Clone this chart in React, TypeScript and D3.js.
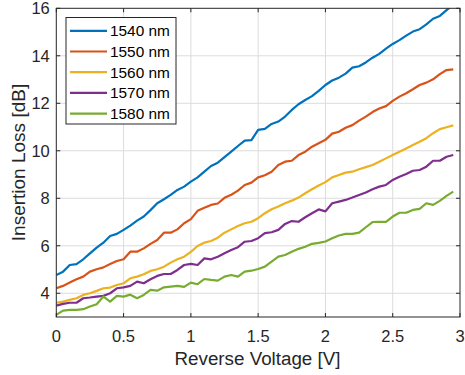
import React from "react";
import * as d3 from "d3";

const voltages: number[] = d3.range(60).map((i) => +(i * 0.05).toFixed(2));

const seriesNames = ["1540 nm", "1550 nm", "1560 nm", "1570 nm", "1580 nm"];
const seriesColors = ["#0072BD", "#D95319", "#EDB120", "#7E2F8E", "#77AC30"];

const loss1540 = [4.77, 4.91, 5.19, 5.23, 5.43, 5.68, 5.92, 6.13, 6.41, 6.5, 6.67, 6.85, 7.06, 7.23, 7.5, 7.79, 7.96, 8.14, 8.35, 8.49,
  8.7, 8.88, 9.12, 9.36, 9.5, 9.73, 9.96, 10.2, 10.43, 10.45, 10.88, 10.92, 11.13, 11.23, 11.44, 11.72, 11.96, 12.14, 12.3, 12.52,
  12.77, 12.96, 13.08, 13.25, 13.5, 13.56, 13.72, 13.92, 14.08, 14.3, 14.5, 14.66, 14.85, 15.02, 15.12, 15.32, 15.56, 15.68, 15.92, 16.15];
const loss1550 = [4.21, 4.31, 4.45, 4.59, 4.7, 4.91, 5.01, 5.09, 5.23, 5.36, 5.43, 5.75, 5.75, 5.89, 6.08, 6.24, 6.55, 6.55, 6.69, 6.95,
  7.12, 7.47, 7.6, 7.72, 7.78, 8.02, 8.15, 8.32, 8.56, 8.66, 8.88, 8.97, 9.12, 9.4, 9.54, 9.58, 9.82, 9.96, 10.17, 10.32,
  10.46, 10.72, 10.8, 10.97, 11.08, 11.27, 11.44, 11.63, 11.78, 11.88, 12.1, 12.28, 12.42, 12.59, 12.77, 12.87, 13.01, 13.23, 13.4, 13.43];
const loss1560 = [3.6, 3.65, 3.72, 3.79, 3.93, 4.0, 4.1, 4.21, 4.24, 4.35, 4.42, 4.63, 4.7, 4.8, 4.94, 5.01, 5.12, 5.29, 5.43, 5.54,
  5.74, 5.99, 6.13, 6.2, 6.34, 6.55, 6.69, 6.83, 6.95, 7.01, 7.16, 7.37, 7.54, 7.65, 7.79, 7.9, 8.03, 8.21, 8.38, 8.54,
  8.68, 8.88, 8.98, 9.08, 9.12, 9.22, 9.31, 9.4, 9.54, 9.68, 9.82, 9.96, 10.1, 10.24, 10.38, 10.53, 10.74, 10.91, 10.99, 11.07];
const loss1570 = [3.48, 3.55, 3.6, 3.6, 3.79, 3.82, 3.86, 3.89, 4.0, 4.21, 4.25, 4.31, 4.49, 4.42, 4.59, 4.73, 4.81, 4.81, 4.98, 5.19,
  5.24, 5.19, 5.47, 5.43, 5.54, 5.68, 5.82, 5.94, 6.17, 6.2, 6.32, 6.53, 6.57, 6.67, 6.92, 7.04, 7.01, 7.2, 7.37, 7.53,
  7.45, 7.79, 7.86, 7.93, 8.03, 8.14, 8.24, 8.38, 8.49, 8.56, 8.77, 8.91, 9.02, 9.16, 9.19, 9.33, 9.58, 9.58, 9.75, 9.82];
const loss1580 = [3.09, 3.27, 3.3, 3.3, 3.33, 3.44, 3.54, 3.86, 3.65, 3.89, 3.86, 3.94, 3.79, 3.93, 4.14, 4.11, 4.25, 4.28, 4.31, 4.27,
  4.45, 4.38, 4.6, 4.56, 4.53, 4.7, 4.77, 4.7, 4.91, 4.95, 5.02, 5.12, 5.33, 5.54, 5.61, 5.75, 5.87, 5.96, 6.08, 6.12,
  6.18, 6.32, 6.43, 6.5, 6.5, 6.55, 6.78, 7.0, 7.01, 7.01, 7.23, 7.39, 7.39, 7.51, 7.55, 7.79, 7.72, 7.89, 8.1, 8.28];

const seriesValues = [loss1540, loss1550, loss1560, loss1570, loss1580];

const xTicks = [0, 0.5, 1, 1.5, 2, 2.5, 3];
const xTickLabels = ["0", "0.5", "1", "1.5", "2", "2.5", "3"];
const yTicks = [4, 6, 8, 10, 12, 14, 16];
const yTickLabels = ["4", "6", "8", "10", "12", "14", "16"];

const xLabel = "Reverse Voltage [V]";
const yLabel = "Insertion Loss [dB]";

const W = 465;
const H = 375;
const L = 56.3, R = 460, T = 8.3, B = 317;
const FONT = "'Liberation Sans', Arial, Helvetica, sans-serif";
const AX = "#262626";

export default function App() {
  const x = d3.scaleLinear().domain([0, 3]).range([L, R]);
  const y = d3.scaleLinear().domain([3, 16]).range([B, T]);
  const line = d3
    .line<[number, number]>()
    .x((d) => x(d[0]))
    .y((d) => y(d[1]));
  const tk = 4;
  return (
    <svg
      width={W}
      height={H}
      style={{ position: "absolute", left: 0, top: 0, background: "#fff" }}
      fontFamily={FONT}
    >
      <defs>
        <clipPath id="plotclip">
          <rect x={L} y={T} width={R - L} height={B - T} />
        </clipPath>
      </defs>
      <rect x={L} y={T} width={R - L} height={B - T} fill="#fff" />
      {/* grid */}
      <g stroke="#dcdcdc" strokeWidth={1}>
        {xTicks.slice(1, -1).map((t) => (
          <line key={"gx" + t} x1={x(t)} x2={x(t)} y1={T} y2={B} />
        ))}
        {yTicks.slice(0, -1).map((t) => (
          <line key={"gy" + t} x1={L} x2={R} y1={y(t)} y2={y(t)} />
        ))}
      </g>
      {/* series */}
      <g clipPath="url(#plotclip)" fill="none" strokeWidth={2.2} strokeLinejoin="round">
        {seriesValues.map((vals, i) => (
          <path
            key={seriesNames[i]}
            d={line(vals.map((v, j) => [voltages[j], v] as [number, number])) || ""}
            stroke={seriesColors[i]}
          />
        ))}
      </g>
      {/* axes box */}
      <rect x={L} y={T} width={R - L} height={B - T} fill="none" stroke={AX} strokeWidth={1} />
      <g stroke={AX} strokeWidth={1}>
        {xTicks.map((t) => (
          <g key={"tx" + t}>
            <line x1={x(t)} x2={x(t)} y1={B} y2={B - tk} />
            <line x1={x(t)} x2={x(t)} y1={T} y2={T + tk} />
          </g>
        ))}
        {yTicks.map((t) => (
          <g key={"ty" + t}>
            <line x1={L} x2={L + tk} y1={y(t)} y2={y(t)} />
            <line x1={R} x2={R - tk} y1={y(t)} y2={y(t)} />
          </g>
        ))}
      </g>
      {/* tick labels */}
      <g fill={AX} fontSize={16.5}>
        {xTicks.map((t, i) => (
          <text key={"lx" + t} x={x(t)} y={341.5} textAnchor="middle">
            {xTickLabels[i]}
          </text>
        ))}
        {yTicks.map((t, i) => (
          <text key={"ly" + t} x={L - 6.5} y={y(t) + 6} textAnchor="end">
            {yTickLabels[i]}
          </text>
        ))}
      </g>
      <text x={257.5} y={365} textAnchor="middle" fontSize={18.8} fill={AX}>
        {xLabel}
      </text>
      <text
        transform={`translate(24.5,${162.5}) rotate(-90)`}
        textAnchor="middle"
        fontSize={19}
        fill={AX}
      >
        {yLabel}
      </text>
      {/* legend */}
      <g>
        <rect x={66} y={17.5} width={110} height={106.5} fill="#fff" stroke={AX} strokeWidth={1} />
        {seriesNames.map((n, i) => {
          const yy = 30.8 + i * 20.7;
          return (
            <g key={"lg" + n}>
              <line x1={70} x2={107} y1={yy} y2={yy} stroke={seriesColors[i]} strokeWidth={2.2} />
              <text x={110} y={yy + 5.5} fontSize={15.4} fill="#000">
                {n}
              </text>
            </g>
          );
        })}
      </g>
    </svg>
  );
}
